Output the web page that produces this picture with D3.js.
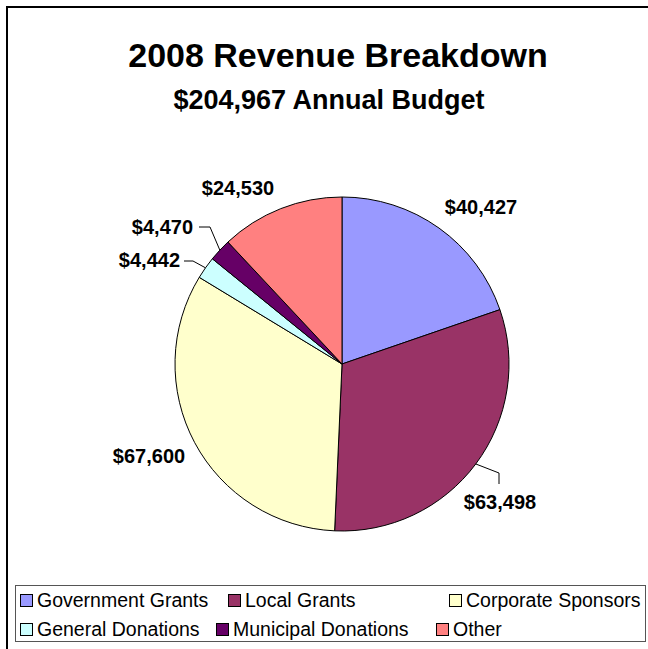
<!DOCTYPE html>
<html>
<head>
<meta charset="utf-8">
<script src="https://cdn.jsdelivr.net/npm/d3@7"></script>
<style>
  html, body { margin: 0; padding: 0; background: #fff; }
  svg { display: block; }
  text { font-family: "Liberation Sans", Arial, sans-serif; fill: #000; }
</style>
</head>
<body>
<svg id="chart" width="648" height="649"></svg>
<script>
// Revenue sources and amounts for 2008
const categories = ["Government Grants", "Local Grants", "Corporate Sponsors",
                    "General Donations", "Municipal Donations", "Other"];
const revenue = [40427, 63498, 67600, 4442, 4470, 24530];
const sliceColors = ["#9999FF", "#993366", "#FFFFCC", "#CCFFFF", "#660066", "#FF8080"];
const titleText = "2008 Revenue Breakdown";
const subtitleText = "$204,967 Annual Budget";

// Layout
const W = 648, H = 649;
const cx = 342, cy = 364, radius = 167;

// Label anchors relative to the pie centre; leader elbow/end where a label sits off the slice
const labelLayout = [
  { x: 139, y: -150, anchor: "middle" },
  { x: 158, y: 145, anchor: "middle", elbow: [157, 109], end: [157, 120] },
  { x: -193, y: 99, anchor: "middle" },
  { x: -162, y: -97, anchor: "end", elbow: [-149, -103], end: [-158, -103] },
  { x: -149, y: -130, anchor: "end", elbow: [-132, -137], end: [-143, -137] },
  { x: -104, y: -169, anchor: "middle" }
];
// Legend key x positions per row
const legendRows = [[0, 1, 2], [3, 4, 5]];
const legendX = [[20, 228, 449], [20, 216, 436]];

const svg = d3.select("#chart");

// Outer chart frame (runs past the right and bottom edges)
svg.append("rect")
  .attr("x", 7).attr("y", 7)
  .attr("width", W + 20).attr("height", H + 20)
  .attr("fill", "#fff").attr("stroke", "#000").attr("stroke-width", 2);

// Titles
svg.append("text")
  .attr("x", 338).attr("y", 67)
  .attr("text-anchor", "middle")
  .style("font-size", "34px").style("font-weight", "bold")
  .text(titleText);
svg.append("text")
  .attr("x", 329).attr("y", 109)
  .attr("text-anchor", "middle")
  .style("font-size", "27px").style("font-weight", "bold")
  .text(subtitleText);

// Pie
const pie = d3.pie().sort(null).value(d => d).startAngle(0).endAngle(2 * Math.PI);
const arcs = pie(revenue);
const arc = d3.arc().innerRadius(0).outerRadius(radius);

const g = svg.append("g").attr("transform", `translate(${cx},${cy})`);
g.selectAll("path.slice")
  .data(arcs)
  .join("path")
  .attr("class", "slice")
  .attr("d", arc)
  .attr("fill", (d, i) => sliceColors[i])
  .attr("stroke", "#000")
  .attr("stroke-width", 1)
  .attr("stroke-linejoin", "round");

// Leader lines from slice edge to label
const fmt = d3.format("$,");
arcs.forEach((d, i) => {
  const L = labelLayout[i];
  if (!L.elbow) return;
  const mid = (d.startAngle + d.endAngle) / 2;
  const edge = [radius * Math.sin(mid), -radius * Math.cos(mid)];
  g.append("path")
    .attr("d", d3.line()([edge, L.elbow, L.end]))
    .attr("fill", "none")
    .attr("stroke", "#000")
    .attr("stroke-width", 1);
});

// Value labels
g.selectAll("text.value")
  .data(arcs)
  .join("text")
  .attr("class", "value")
  .attr("x", (d, i) => labelLayout[i].x)
  .attr("y", (d, i) => labelLayout[i].y)
  .attr("text-anchor", (d, i) => labelLayout[i].anchor)
  .style("font-size", "20px").style("font-weight", "bold")
  .text(d => fmt(d.data));

// Legend
const legend = svg.append("g");
legend.append("rect")
  .attr("x", 15.5).attr("y", 585.5)
  .attr("width", 630).attr("height", 56)
  .attr("fill", "#fff").attr("stroke", "#555").attr("stroke-width", 1);

const rowBase = [607, 636];
legendRows.forEach((row, r) => {
  row.forEach((ci, k) => {
    const x = legendX[r][k];
    legend.append("rect")
      .attr("x", x + 0.5).attr("y", rowBase[r] - 12.5)
      .attr("width", 12).attr("height", 12)
      .attr("fill", sliceColors[ci]).attr("stroke", "#000").attr("stroke-width", 1);
    legend.append("text")
      .attr("x", x + 17).attr("y", rowBase[r])
      .style("font-size", "19.5px")
      .text(categories[ci]);
  });
});
</script>
</body>
</html>
